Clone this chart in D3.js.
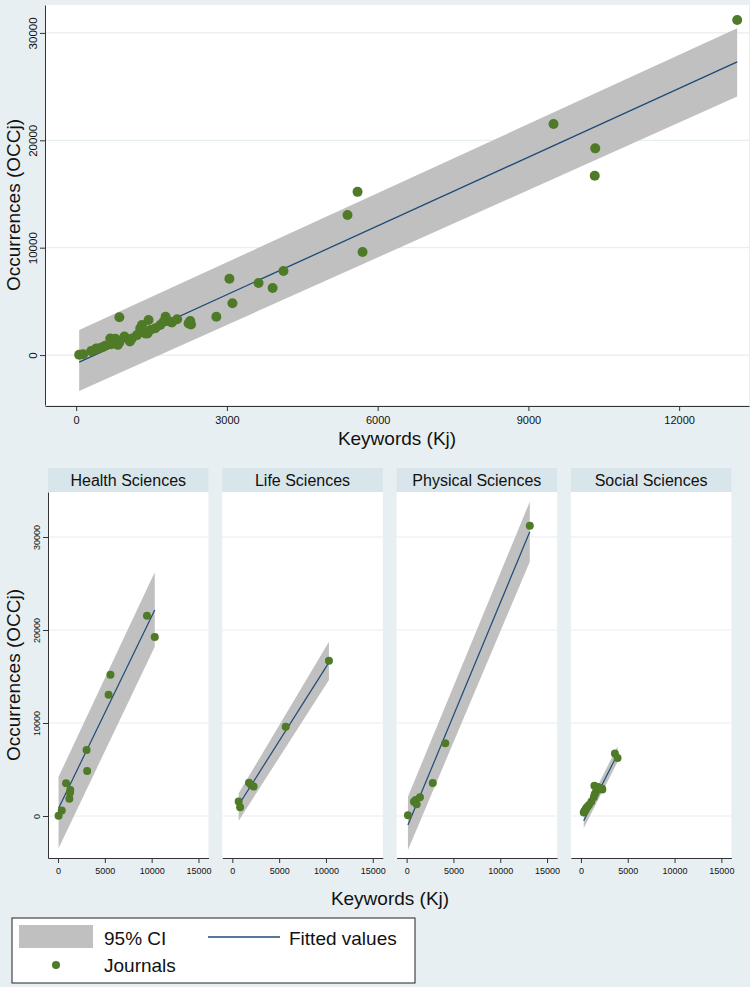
<!DOCTYPE html>
<html>
<head>
<meta charset="utf-8">
<script src="https://cdn.jsdelivr.net/npm/d3@7"></script>
<style>
  body { margin: 0; background: #e8eff2; }
  text { font-family: "Liberation Sans", Arial, sans-serif; fill: #111; }
</style>
</head>
<body>
<svg id="chart" width="750" height="987"></svg>
<script>
// journals by field: keywords (Kj) and occurrences (OCCj)
const fields = ["Health Sciences", "Life Sciences", "Physical Sciences", "Social Sciences"];

const healthKj  = [60, 400, 860, 1276, 1310, 1210, 3050, 3110, 5400, 5600, 9500, 10330];
const healthOcc = [30, 600, 3530, 2490, 2800, 1860, 7100, 4830, 13040, 15200, 21520, 19250];

const lifeKj  = [678, 830, 1780, 2010, 2270, 5700, 10320];
const lifeOcc = [1550, 950, 3570, 3330, 3170, 9600, 16700];

const physKj  = [140, 780, 960, 1070, 1420, 2790, 4126, 13155];
const physOcc = [80, 1520, 1720, 1270, 2010, 3560, 7830, 31210];

const socialKj  = [300, 380, 450, 520, 580, 700, 860, 1110, 1375, 1475, 1575, 1674, 1441, 1740, 1874, 1906, 2286, 2238, 3630, 3910];
const socialOcc = [370, 520, 620, 720, 870, 1000, 1180, 1540, 2020, 2330, 2490, 2800, 3260, 3100, 3100, 3040, 2850, 2950, 6710, 6240];

// fitted values and 95% CI at the ends of each fit
const allFitKj = [60, 13155];
const allFit   = [-650, 27300];
const allCiLo  = [-3350, 24070];
const allCiHi  = [2330, 30440];

const fitKj = [[60, 10330], [678, 10320], [140, 13155], [300, 3910]];
const fitOcc = [[830, 22150], [1180, 16520], [-970, 30570], [-520, 6640]];
const ciLo  = [[-3470, 18200], [-500, 14620], [-3660, 27350], [-1300, 5800]];
const ciHi  = [[4230, 26200], [2440, 18740], [2080, 33800], [250, 7500]];

const topXTicks = [0, 3000, 6000, 9000, 12000];
const yTicks = [0, 10000, 20000, 30000];
const panelXTicks = [0, 5000, 10000, 15000];

const greenDot = "#4f7a27", navy = "#1d4a78", band = "#c0c0c0", grid = "#e6eef1";

const byField = [
  healthKj.map((k, i) => ({k, o: healthOcc[i]})),
  lifeKj.map((k, i) => ({k, o: lifeOcc[i]})),
  physKj.map((k, i) => ({k, o: physOcc[i]})),
  socialKj.map((k, i) => ({k, o: socialOcc[i]}))
];
const all = byField.flat();

const svg = d3.select("#chart");

// ---------- top: all journals ----------
const x = d3.scaleLinear().domain([-620, 13390]).range([45, 749]);
const y = d3.scaleLinear().domain([-4650, 32600]).range([405, 5]);

const topG = svg.append("g");
topG.append("rect").attr("x", 45).attr("y", 5).attr("width", 704).attr("height", 400).attr("fill", "#fff");
topG.append("g").selectAll("line").data(yTicks).join("line")
  .attr("x1", 45).attr("x2", 749).attr("y1", d => y(d)).attr("y2", d => y(d))
  .attr("stroke", grid).attr("stroke-width", 1.2);

const bandAll = allFitKj.map((k, i) => ({k, lo: allCiLo[i], hi: allCiHi[i], f: allFit[i]}));
topG.append("path").datum(bandAll)
  .attr("fill", band)
  .attr("d", d3.area().x(d => x(d.k)).y0(d => y(d.lo)).y1(d => y(d.hi)));
topG.append("path").datum(bandAll)
  .attr("fill", "none").attr("stroke", navy).attr("stroke-width", 1.3)
  .attr("d", d3.line().x(d => x(d.k)).y(d => y(d.f)));

topG.append("g").selectAll("circle").data(all).join("circle")
  .attr("cx", d => x(d.k)).attr("cy", d => y(d.o)).attr("r", 5).attr("fill", greenDot);

const xa = topG.append("g").attr("transform", "translate(0,406)")
  .call(d3.axisBottom(x).tickValues(topXTicks).tickFormat(d3.format("d")).tickSize(5).tickSizeOuter(0).tickPadding(5));
xa.selectAll("text").style("font-size", "11px");
const ya = topG.append("g").attr("transform", "translate(45,0)")
  .call(d3.axisLeft(y).tickValues(yTicks).tickFormat(d3.format("d")).tickSize(5).tickSizeOuter(0));
ya.selectAll("text").style("font-size", "11.5px")
  .attr("transform", "rotate(-90)").attr("x", 0).attr("y", -8).attr("dy", 0).attr("text-anchor", "middle");
[xa, ya].forEach(a => a.selectAll("path, line").attr("stroke", "#333"));

topG.append("text").attr("x", 397).attr("y", 445).attr("text-anchor", "middle")
  .style("font-size", "19px").text("Keywords (Kj)");
topG.append("text").attr("transform", "translate(20,205) rotate(-90)").attr("text-anchor", "middle")
  .style("font-size", "19px").text("Occurrences (OCCj)");

// ---------- bottom: by field ----------
const py = d3.scaleLinear().domain([-4516, 34839]).range([858, 492]);
const panelW = 160.5, step = 174.3, left0 = 48;

fields.forEach((name, i) => {
  const x0 = left0 + i * step;
  const px = d3.scaleLinear().domain([-1071, 16071]).range([x0, x0 + panelW]);
  const g = svg.append("g");

  g.append("rect").attr("x", x0).attr("y", 468).attr("width", panelW).attr("height", 24).attr("fill", "#d8e5eb");
  g.append("text").attr("x", x0 + panelW / 2).attr("y", 486).attr("text-anchor", "middle")
    .style("font-size", "16px").text(name);
  g.append("rect").attr("x", x0).attr("y", 492).attr("width", panelW).attr("height", 366).attr("fill", "#fff");
  g.append("g").selectAll("line").data(yTicks).join("line")
    .attr("x1", x0).attr("x2", x0 + panelW).attr("y1", d => py(d)).attr("y2", d => py(d))
    .attr("stroke", grid).attr("stroke-width", 1.2);

  const b = fitKj[i].map((k, j) => ({k, lo: ciLo[i][j], hi: ciHi[i][j], f: fitOcc[i][j]}));
  g.append("path").datum(b).attr("fill", band)
    .attr("d", d3.area().x(d => px(d.k)).y0(d => py(d.lo)).y1(d => py(d.hi)));
  g.append("path").datum(b).attr("fill", "none").attr("stroke", navy).attr("stroke-width", 1.2)
    .attr("d", d3.line().x(d => px(d.k)).y(d => py(d.f)));
  g.append("g").selectAll("circle").data(byField[i]).join("circle")
    .attr("cx", d => px(d.k)).attr("cy", d => py(d.o)).attr("r", 4).attr("fill", greenDot);

  const ax = g.append("g").attr("transform", "translate(0,858)")
    .call(d3.axisBottom(px).tickValues(panelXTicks).tickFormat(d3.format("d")).tickSize(5).tickSizeOuter(0).tickPadding(5));
  ax.selectAll("text").style("font-size", "9px");
  ax.selectAll("path, line").attr("stroke", "#333");

  if (i === 0) {
    const ay = g.append("g").attr("transform", `translate(${x0},0)`)
      .call(d3.axisLeft(py).tickValues(yTicks).tickFormat(d3.format("d")).tickSize(5).tickSizeOuter(0));
    ay.selectAll("text").style("font-size", "9px")
      .attr("transform", "rotate(-90)").attr("x", 0).attr("y", -8).attr("dy", 0).attr("text-anchor", "middle");
    ay.selectAll("path, line").attr("stroke", "#333");
  }
});

svg.append("text").attr("x", 390).attr("y", 905).attr("text-anchor", "middle")
  .style("font-size", "19px").text("Keywords (Kj)");
svg.append("text").attr("transform", "translate(20,675) rotate(-90)").attr("text-anchor", "middle")
  .style("font-size", "19px").text("Occurrences (OCCj)");

// ---------- legend ----------
const lg = svg.append("g");
lg.append("rect").attr("x", 12).attr("y", 918).attr("width", 403).attr("height", 65)
  .attr("fill", "#fff").attr("stroke", "#222");
lg.append("rect").attr("x", 19).attr("y", 925).attr("width", 74).attr("height", 23).attr("fill", band);
lg.append("text").attr("x", 104).attr("y", 945).style("font-size", "19px").text("95% CI");
lg.append("line").attr("x1", 208).attr("x2", 280).attr("y1", 937).attr("y2", 937)
  .attr("stroke", navy).attr("stroke-width", 1.5);
lg.append("text").attr("x", 289).attr("y", 945).style("font-size", "19px").text("Fitted values");
lg.append("circle").attr("cx", 56).attr("cy", 965).attr("r", 4).attr("fill", greenDot);
lg.append("text").attr("x", 104).attr("y", 972).style("font-size", "19px").text("Journals");
</script>
</body>
</html>
